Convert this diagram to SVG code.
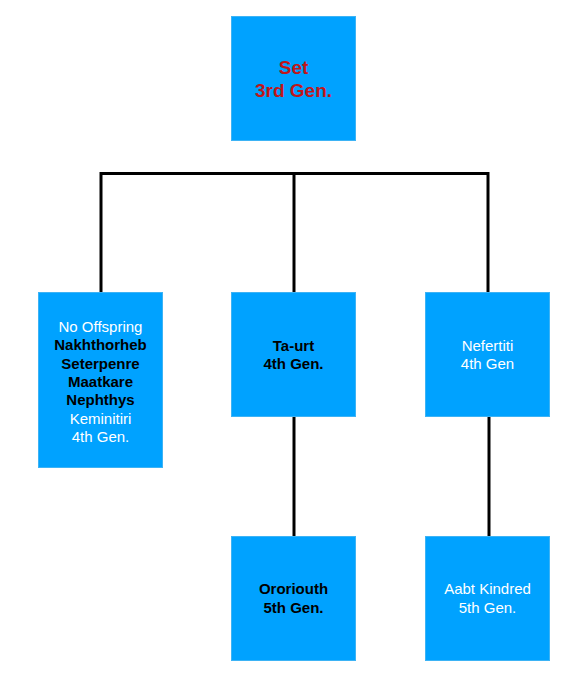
<svg xmlns="http://www.w3.org/2000/svg" width="565" height="680" viewBox="0 0 565 680">
<style>
.box{fill:#00A2FF;stroke:#3DB3F5;stroke-width:1}
.t{font-family:"Liberation Sans",Arial,sans-serif;font-size:15px;text-anchor:middle}
.w{fill:#ffffff}
.k{fill:#000000;font-weight:bold}
.r{fill:#C0161A;font-weight:bold;font-size:19px}
.c{stroke:#000;stroke-width:3;fill:none}
</style>
<rect width="565" height="680" fill="#ffffff"/>
<g id="connectors">
<path class="c" d="M100,173.5 H489"/>
<path class="c" d="M101,172 V292"/>
<path class="c" d="M294,172 V292"/>
<path class="c" d="M488,172 V292"/>
<path class="c" d="M294,416 V536"/>
<path class="c" d="M489,416 V536"/>
</g>
<g id="set">
<rect class="box" x="231.5" y="16.5" width="124" height="124"/>
<text class="t r" x="293.5" y="74">Set</text>
<text class="t r" x="293.5" y="97">3rd Gen.</text>
</g>
<g id="no-offspring">
<rect class="box" x="38.5" y="292.5" width="124" height="175"/>
<text class="t w" x="100.5" y="332">No Offspring</text>
<text class="t k" x="100.5" y="350.3">Nakhthorheb</text>
<text class="t k" x="100.5" y="368.7">Seterpenre</text>
<text class="t k" x="100.5" y="387">Maatkare</text>
<text class="t k" x="100.5" y="405.3">Nephthys</text>
<text class="t w" x="100.5" y="423.7">Keminitiri</text>
<text class="t w" x="100.5" y="442">4th Gen.</text>
</g>
<g id="ta-urt">
<rect class="box" x="231.5" y="292.5" width="124" height="124"/>
<text class="t k" x="293.5" y="351">Ta-urt</text>
<text class="t k" x="293.5" y="369">4th Gen.</text>
</g>
<g id="nefertiti">
<rect class="box" x="425.5" y="292.5" width="124" height="124"/>
<text class="t w" x="487.5" y="351">Nefertiti</text>
<text class="t w" x="487.5" y="369">4th Gen</text>
</g>
<g id="ororiouth">
<rect class="box" x="231.5" y="536.5" width="124" height="124"/>
<text class="t k" x="293.5" y="594">Ororiouth</text>
<text class="t k" x="293.5" y="612.5">5th Gen.</text>
</g>
<g id="aabt-kindred">
<rect class="box" x="425.5" y="536.5" width="124" height="124"/>
<text class="t w" x="487.5" y="594">Aabt Kindred</text>
<text class="t w" x="487.5" y="612.5">5th Gen.</text>
</g>
</svg>
